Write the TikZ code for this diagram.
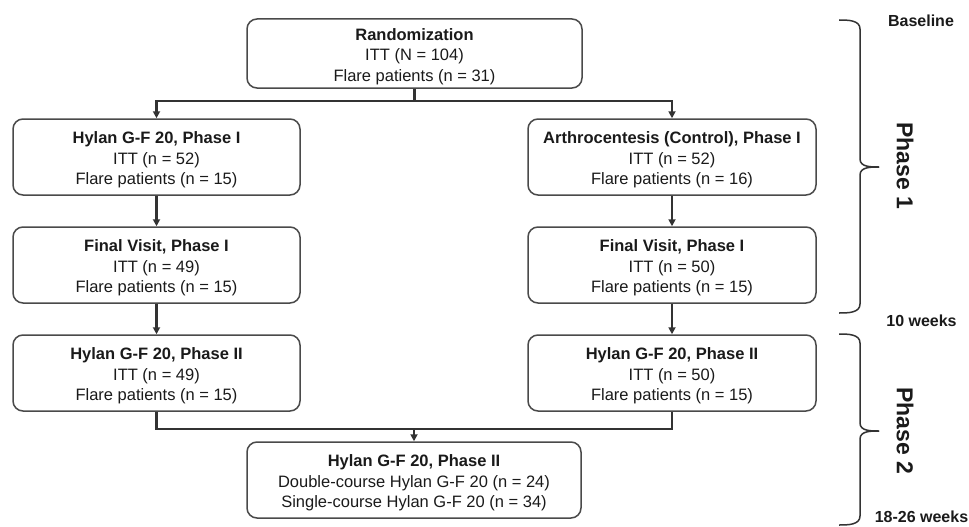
\documentclass[tikz,border=0pt]{standalone}
\usepackage{fontspec}
\setmainfont{Liberation Sans}
\usetikzlibrary{arrows.meta}
\definecolor{boxgray}{HTML}{4A4A4A}
\definecolor{linegray}{HTML}{333333}
\definecolor{txt}{HTML}{1A1A1A}
\newcommand\bxstrut{\rule{0pt}{17.5pt}}
\begin{document}
\begin{tikzpicture}[x=1pt,y=-1pt,
  box/.style={draw=boxgray, line width=1.5pt, rounded corners=10pt, align=center,
    font=\fontsize{16.5}{20.5}\selectfont, text=txt, inner sep=0pt},
  lbox/.style={box, minimum width=287pt, minimum height=76pt},
  rbox/.style={box, minimum width=288pt, minimum height=76pt},
  conn/.style={draw=linegray, line width=2.5pt},
  arr/.style={conn, -{Triangle[length=7pt,width=7pt]}},
  brace/.style={draw=linegray, line width=1.5pt},
  tlabel/.style={font=\fontsize{16}{18}\selectfont\bfseries, text=txt, inner sep=0pt},
  plabel/.style={font=\fontsize{23}{26}\selectfont\bfseries, text=txt, inner sep=0pt, rotate=-90}
]
\useasboundingbox (0,0) rectangle (969,527);

% boxes
\node[box, minimum width=335pt, minimum height=69pt] (top) at (414.5,53.5)
  {\bxstrut\textbf{Randomization}\\ITT (N = 104)\\Flare patients (n = 31)};
\node[lbox] (L1) at (156.5,157) {\bxstrut\textbf{Hylan G-F 20, Phase I}\\ITT (n = 52)\\Flare patients (n = 15)};
\node[lbox] (L2) at (156.5,265) {\bxstrut\textbf{Final Visit, Phase I}\\ITT (n = 49)\\Flare patients (n = 15)};
\node[lbox] (L3) at (156.5,373) {\bxstrut\textbf{Hylan G-F 20, Phase II}\\ITT (n = 49)\\Flare patients (n = 15)};
\node[rbox] (R1) at (672,157) {\bxstrut\textbf{Arthrocentesis (Control), Phase I}\\ITT (n = 52)\\Flare patients (n = 16)};
\node[rbox] (R2) at (672,265) {\bxstrut\textbf{Final Visit, Phase I}\\ITT (n = 50)\\Flare patients (n = 15)};
\node[rbox] (R3) at (672,373) {\bxstrut\textbf{Hylan G-F 20, Phase II}\\ITT (n = 50)\\Flare patients (n = 15)};
\node[box, minimum width=334pt, minimum height=76pt] (B) at (414,480)
  {\bxstrut\textbf{Hylan G-F 20, Phase II}\\Double-course Hylan G-F 20 (n = 24)\\Single-course Hylan G-F 20 (n = 34)};

% junctions
\coordinate (j1) at (414.5,101);
\coordinate (j2) at (414,429);

% connectors
\draw[conn] (top.south) -- (j1);
\draw[arr] (j1) -| (L1.north);
\draw[arr] (j1) -| (R1.north);
\draw[arr] (L1.south) -- (L2.north);
\draw[arr] (R1.south) -- (R2.north);
\draw[arr] (L2.south) -- (L3.north);
\draw[arr] (R2.south) -- (R3.north);
\draw[conn] (L3.south) |- (j2);
\draw[conn] (R3.south) |- (j2);
\draw[arr] (j2) -- (B.north);

% braces
\coordinate (b1a) at (839,20);
\coordinate (b1t) at (879,167);
\coordinate (b1b) at (839,313);
\draw[brace] (b1a) to[out=0,in=90] (860,29) -- (860,159) to[out=-90,in=180] (b1t);
\draw[brace] (b1t) to[out=180,in=90] (860,175) -- (860,304) to[out=-90,in=0] (b1b);
\coordinate (b2a) at (839,334);
\coordinate (b2t) at (879,431);
\coordinate (b2b) at (839,525);
\draw[brace] (b2a) to[out=0,in=90] (860,343) -- (860,423) to[out=-90,in=180] (b2t);
\draw[brace] (b2t) to[out=180,in=90] (860,439) -- (860,516) to[out=-90,in=0] (b2b);

% labels
\node[tlabel] (base) at (921,21) {Baseline};
\node[tlabel] (w10) at (921.5,321) {10 weeks};
\node[tlabel] (w18) at (921.5,517) {18-26 weeks};
\node[plabel] (p1) at (905,166) {Phase 1};
\node[plabel] (p2) at (905,431) {Phase 2};
\end{tikzpicture}
\end{document}
